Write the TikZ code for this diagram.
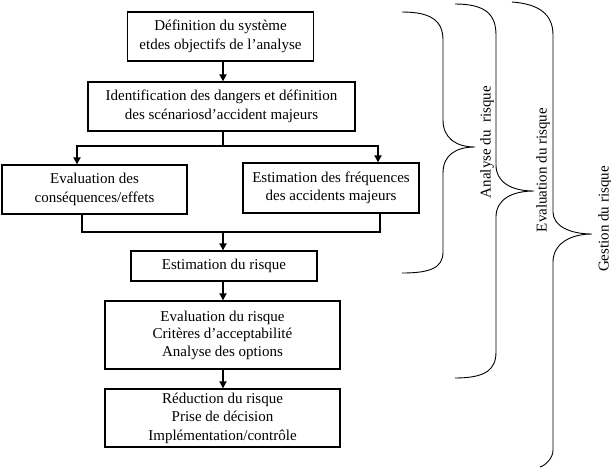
\documentclass[tikz,border=0pt]{standalone}
\usepackage{fontspec}
\setmainfont{Liberation Serif}
\usetikzlibrary{arrows.meta}
\begin{document}
\begin{tikzpicture}[x=1pt,y=-1pt,
  box/.style={draw,line width=1.3pt,rectangle,align=center,inner sep=0pt,
    font=\fontsize{15}{18.5}\selectfont},
  conn/.style={line width=2.2pt},
  arr/.style={conn,-{Triangle[length=7pt,width=7pt]}},
  brace/.style={line width=0.9pt},
  lab/.style={rotate=90,font=\fontsize{15}{17}\selectfont,inner sep=0pt}]
\useasboundingbox (0,0) rectangle (611,467);
\node[box,minimum width=186pt,minimum height=49pt] (b1) at (220.5,36.5)
  {Définition du système\\etdes objectifs de l’analyse};
\node[box,minimum width=267pt,minimum height=49pt] (b2) at (221.5,106.5)
  {Identification des dangers et définition\\des scénariosd’accident majeurs};
\node[box,minimum width=185pt,minimum height=49pt] (b3) at (94.5,189.5)
  {Evaluation des\\conséquences/effets};
\node[box,minimum width=176pt,minimum height=50pt] (b4) at (331,188)
  {Estimation des fréquences\\des accidents majeurs};
\node[box,minimum width=186pt,minimum height=30pt] (b5) at (224,266)
  {Estimation du risque};
\node[box,minimum width=235pt,minimum height=68pt,font=\fontsize{15}{17.5}\selectfont] (b6) at (222.5,335)
  {Evaluation du risque\\Critères d’acceptabilité\\Analyse des options};
\node[box,minimum width=235pt,minimum height=58pt] (b7) at (222.5,418)
  {Réduction du risque\\Prise de décision\\Implémentation/contrôle};
% connectors
\coordinate (t1) at (223,61);
\draw[arr] (t1 |- b1.south) -- (t1 |- b2.north);
\coordinate (s1) at (223,146);
\coordinate (jL) at (77,146);
\coordinate (jR) at (378,146);
\draw[conn] (s1 |- b2.south) -- (s1);
\draw[arr] (s1) -- (jL) -- (jL |- b3.north);
\draw[arr] (s1) -- (jR) -- (jR |- b4.north);
\coordinate (mL) at (82,232);
\coordinate (mR) at (380,232);
\coordinate (m1) at (223,232);
\draw[conn] (mL |- b3.south) -- (mL) -- (mR) -- (mR |- b4.south);
\draw[arr] (m1) -- (m1 |- b5.north);
\coordinate (t5) at (223,281);
\draw[arr] (t5 |- b5.south) -- (t5 |- b6.north);
\draw[arr] (t5 |- b6.south) -- (t5 |- b7.north);
% braces
\draw[brace] (402,12) .. controls (430,12) and (443,20) .. (443,40) -- (443,120)
  .. controls (443,138) and (456,147) .. (475,147)
  .. controls (456,147) and (443,155) .. (443,173) -- (443,252)
  .. controls (443,268) and (430,273) .. (402,273);
\draw[brace] (455,4) .. controls (485,4) and (496,14) .. (496,35) -- (496,165)
  .. controls (496,182) and (511,191) .. (534,191)
  .. controls (511,191) and (496,200) .. (496,217) -- (496,352)
  .. controls (496,370) and (485,378) .. (455,378);
\draw[brace] (512,2) .. controls (540,4) and (553,15) .. (553,35) -- (553,212)
  .. controls (553,226) and (570,234) .. (592,234)
  .. controls (570,234) and (553,244) .. (553,262) -- (553,450)
  .. controls (553,458) and (546,465) .. (540,467);
\node[lab] (l1) at (487,142) {Analyse du\ \ risque};
\node[lab] (l2) at (543,170) {Evaluation du risque};
\node[lab] (l3) at (605,219) {Gestion du risque};
\end{tikzpicture}
\end{document}
